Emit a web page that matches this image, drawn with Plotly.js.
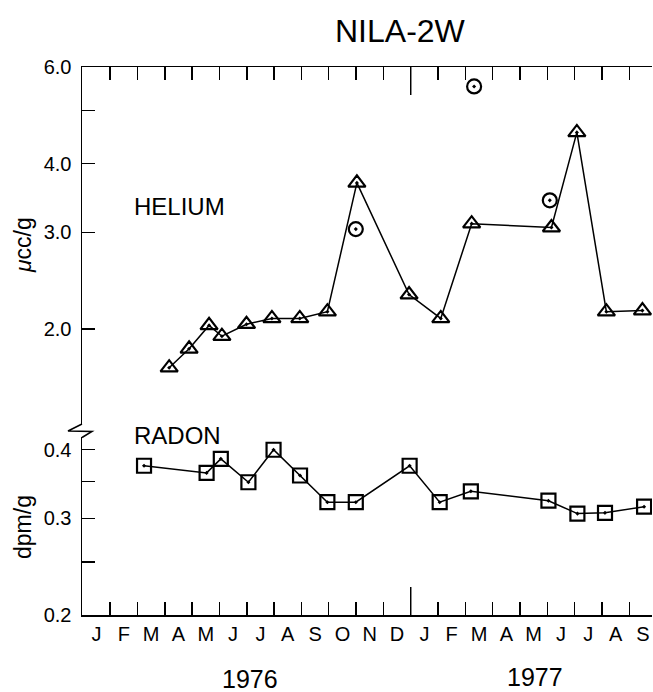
<!DOCTYPE html>
<html>
<head>
<meta charset="utf-8">
<script src="https://cdn.plot.ly/plotly-3.0.1.min.js"></script>
<style>html,body{margin:0;padding:0;background:#fff;}#chart{width:653px;height:692px;}</style>
</head>
<body>
<div id="chart"></div>
<script>
// ---- data (x = months since 1 Jan 1976) ----
const monthLabels = ["J","F","M","A","M","J","J","A","S","O","N","D","J","F","M","A","M","J","J","A","S"];
const yearLabels = ["1976", "1977"];
const yearStartMonth = 12; // January 1977

const heliumMonths = [3.16, 3.89, 4.62, 5.09, 5.99, 6.92, 7.94, 8.95, 10.03, 11.94, 13.10, 14.23, 17.15, 18.08, 19.16, 20.48];
const heliumValues = [1.70, 1.84, 2.03, 1.94, 2.04, 2.09, 2.09, 2.15, 3.69, 2.31, 2.09, 3.11, 3.06, 4.56, 2.15, 2.16];

const heliumExtraMonths = [9.99, 14.32, 17.09];
const heliumExtraValues = [3.04, 5.53, 3.43];

const radonMonths = [2.24, 4.53, 5.05, 6.06, 6.98, 7.95, 8.95, 9.99, 11.96, 13.06, 14.20, 17.04, 18.10, 19.11, 20.54];
const radonValues = [0.374, 0.363, 0.385, 0.349, 0.400, 0.359, 0.321, 0.321, 0.374, 0.321, 0.336, 0.323, 0.306, 0.307, 0.315];

const heliumTicks = [2, 3, 4, 5, 6];
const heliumTickText = ["2.0", "3.0", "4.0", "", "6.0"];
const radonTicks = [0.2, 0.25, 0.3, 0.35, 0.4];
const radonTickText = ["0.2", "", "0.3", "", "0.4"];

// ---- layout geometry ----
const W = 653, H = 692;
const M = {l: 82, r: 1, t: 67, b: 77};
const PW = W - M.l - M.r, PH = H - M.t - M.b;
const px = x => (x - M.l) / PW;
const py = y => (M.t + PH - y) / PH;

const FONT = "Liberation Sans, Arial, sans-serif";
const black = "#000";

const monthBoundaries = [];
for (let i = 1; i < monthLabels.length; i++) monthBoundaries.push(i);
const monthCenters = monthLabels.map((_, i) => i + 0.5);

const xRange = [-0.03, 20.83];
const heliumDomain = [py(424), 1];
const radonDomain = [0, py(437)];
const heliumRange = [Math.log10(6) - (424 - 67) / 549, Math.log10(6)];
const radonRange = [Math.log10(0.2), Math.log10(0.2) + (615 - 437) / 549];

const markerLine = {color: black, width: 2.2};

const traces = [
  {
    x: heliumMonths, y: heliumValues, xaxis: "x2", yaxis: "y",
    mode: "lines+markers", type: "scatter",
    line: {color: black, width: 1.5},
    marker: {symbol: "triangle-up-open-dot", size: 15, color: black, line: markerLine},
    showlegend: false, hoverinfo: "x+y"
  },
  {
    x: heliumExtraMonths, y: heliumExtraValues, xaxis: "x2", yaxis: "y",
    mode: "markers", type: "scatter",
    marker: {symbol: "circle-open-dot", size: 14, color: black, line: markerLine},
    showlegend: false, hoverinfo: "x+y"
  },
  {
    x: radonMonths, y: radonValues, xaxis: "x", yaxis: "y2",
    mode: "lines+markers", type: "scatter",
    line: {color: black, width: 1.5},
    marker: {symbol: "square-open-dot", size: 14, color: black, line: markerLine},
    showlegend: false, hoverinfo: "x+y"
  }
];

const tickFont = {family: FONT, size: 20, color: black};

const layout = {
  width: W, height: H,
  margin: M,
  paper_bgcolor: "#fff", plot_bgcolor: "#fff",
  showlegend: false,
  font: {family: FONT, color: black},
  xaxis: {
    anchor: "y2", range: xRange, showgrid: false, zeroline: false,
    showline: true, linecolor: black, linewidth: 1.5,
    tickmode: "array", tickvals: monthCenters, ticktext: monthLabels,
    ticks: "", tickfont: {family: FONT, size: 20, color: black},
    ticklabelstandoff: 0,
    minor: {tickmode: "array", tickvals: monthBoundaries, ticks: "inside", ticklen: 13, tickwidth: 1.5, tickcolor: black, showgrid: false}
  },
  xaxis2: {
    anchor: "y", side: "top", range: xRange, showgrid: false, zeroline: false,
    showline: true, linecolor: black, linewidth: 1.5,
    tickmode: "array", tickvals: monthCenters, ticktext: monthLabels,
    showticklabels: false, ticks: "",
    minor: {tickmode: "array", tickvals: monthBoundaries, ticks: "inside", ticklen: 13, tickwidth: 1.5, tickcolor: black, showgrid: false}
  },
  yaxis: {
    domain: heliumDomain, type: "log", range: heliumRange, anchor: "x2",
    showgrid: false, zeroline: false, showline: true, linecolor: black, linewidth: 1.5,
    tickmode: "array", tickvals: heliumTicks, ticktext: heliumTickText,
    ticks: "inside", ticklen: 13, tickwidth: 1.5, tickcolor: black,
    tickfont: tickFont, ticklabelstandoff: 5
  },
  yaxis2: {
    domain: radonDomain, type: "log", range: radonRange, anchor: "x",
    showgrid: false, zeroline: false, showline: true, linecolor: black, linewidth: 1.5,
    tickmode: "array", tickvals: radonTicks, ticktext: radonTickText,
    ticks: "inside", ticklen: 13, tickwidth: 1.5, tickcolor: black,
    tickfont: tickFont, ticklabelstandoff: 5
  },
  shapes: [
    // axis break zigzag
    {type: "path", xref: "paper", yref: "paper",
     path: `M 0 ${py(424)} L ${px(68)} ${py(431)} L ${px(92)} ${py(431.5)} L 0 ${py(437.5)}`,
     line: {color: black, width: 1.5}},
    // longer ticks at the year boundary
    {type: "line", xref: "x", yref: "paper", x0: yearStartMonth, x1: yearStartMonth,
     ysizemode: "pixel", yanchor: 0, y0: 0, y1: 28, line: {color: black, width: 1.5}},
    {type: "line", xref: "x", yref: "paper", x0: yearStartMonth, x1: yearStartMonth,
     ysizemode: "pixel", yanchor: 1, y0: 0, y1: -28, line: {color: black, width: 1.5}}
  ],
  annotations: [
    {text: "NILA-2W", xref: "paper", yref: "paper", x: px(400), y: py(31),
     showarrow: false, xanchor: "center", yanchor: "middle",
     font: {family: FONT, size: 32, color: black}},
    {text: "HELIUM", xref: "paper", yref: "paper", x: px(132), y: py(206),
     showarrow: false, xanchor: "left", yanchor: "middle",
     font: {family: FONT, size: 24, color: black}},
    {text: "RADON", xref: "paper", yref: "paper", x: px(132), y: py(436),
     showarrow: false, xanchor: "left", yanchor: "middle",
     font: {family: FONT, size: 24, color: black}},
    {text: "<i>μ</i>cc/g", xref: "paper", yref: "paper", x: px(23), y: py(245),
     showarrow: false, xanchor: "center", yanchor: "middle", textangle: -90,
     font: {family: FONT, size: 23, color: black}},
    {text: "dpm/g", xref: "paper", yref: "paper", x: px(23), y: py(527),
     showarrow: false, xanchor: "center", yanchor: "middle", textangle: -90,
     font: {family: FONT, size: 23, color: black}},
    {text: yearLabels[0], xref: "paper", yref: "paper", x: px(250), y: py(679),
     showarrow: false, xanchor: "center", yanchor: "middle",
     font: {family: FONT, size: 25, color: black}},
    {text: yearLabels[1], xref: "paper", yref: "paper", x: px(535), y: py(677),
     showarrow: false, xanchor: "center", yanchor: "middle",
     font: {family: FONT, size: 25, color: black}}
  ]
};

Plotly.newPlot("chart", traces, layout, {staticPlot: true, displayModeBar: false});
</script>
</body>
</html>
